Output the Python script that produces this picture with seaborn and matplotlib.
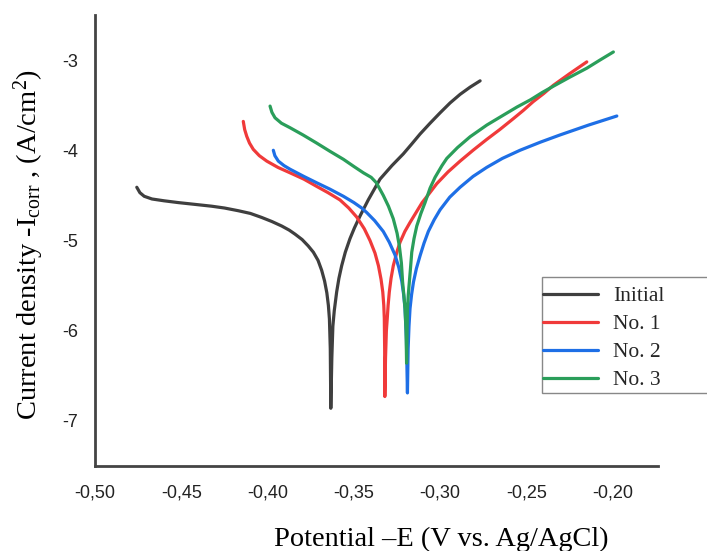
import numpy as np
import pandas as pd
import matplotlib
matplotlib.use("Agg")
import matplotlib.pyplot as plt
from matplotlib.patches import Rectangle
import seaborn as sns

# ---- data ----
initial_E = [-0.4758, -0.4740, -0.4715, -0.4670, -0.4600, -0.4517, -0.4420, -0.4324, -0.4250,
             -0.4170, -0.4100, -0.4034, -0.3975, -0.3918, -0.3875, -0.3841, -0.3800, -0.3765,
             -0.3735, -0.3708, -0.3687, -0.3670, -0.3657, -0.3648, -0.3642, -0.3637, -0.3634,
             -0.3628, -0.3622, -0.3614, -0.3600, -0.3587, -0.3571, -0.3550, -0.3523, -0.3497,
             -0.3465, -0.3417, -0.3349, -0.3280, -0.3214, -0.3165, -0.3117, -0.3059, -0.3001,
             -0.2943, -0.2885, -0.2827, -0.2769]
initial_I = [-4.41, -4.47, -4.51, -4.54, -4.56, -4.58, -4.60, -4.62, -4.64,
             -4.67, -4.70, -4.745, -4.79, -4.84, -4.885, -4.93, -4.99, -5.06,
             -5.13, -5.22, -5.33, -5.45, -5.58, -5.72, -5.87, -6.2, -6.86,
             -6.3, -5.95, -5.78, -5.57, -5.42, -5.28, -5.13, -4.98, -4.86,
             -4.73, -4.55, -4.32, -4.17, -4.04, -3.93, -3.82, -3.70, -3.585,
             -3.475, -3.38, -3.30, -3.23]

no1_E = [-0.4141, -0.4133, -0.4121, -0.4105, -0.4083, -0.4048, -0.4005, -0.3940, -0.3870,
         -0.3790, -0.3716, -0.3650, -0.3581, -0.3530, -0.3484, -0.3440, -0.3407, -0.3378,
         -0.3358, -0.3343, -0.3333, -0.3327, -0.3324, -0.3322, -0.3321,
         -0.3317, -0.3312, -0.3307, -0.3302, -0.3295, -0.3285, -0.3272, -0.3250, -0.3233,
         -0.3205, -0.3175, -0.3140, -0.3105, -0.3060, -0.3020, -0.2955, -0.2885, -0.2810,
         -0.2731, -0.2655, -0.2577, -0.2520, -0.2461, -0.2400, -0.2345, -0.2250, -0.2151]
no1_I = [-3.68, -3.77, -3.845, -3.92, -3.99, -4.06, -4.12, -4.19, -4.25,
         -4.32, -4.40, -4.47, -4.55, -4.64, -4.74, -4.87, -5.00, -5.14,
         -5.28, -5.43, -5.57, -5.72, -5.865, -6.2, -6.73,
         -6.3, -6.0, -5.865, -5.72, -5.57, -5.42, -5.28, -5.12, -5.02,
         -4.90, -4.80, -4.69, -4.58, -4.47, -4.37, -4.24, -4.12, -4.00,
         -3.88, -3.77, -3.65, -3.56, -3.46, -3.37, -3.28, -3.15, -3.02]

no2_E = [-0.3967, -0.3958, -0.3938, -0.3905, -0.3870, -0.3790, -0.3716, -0.3640, -0.3561,
         -0.3500, -0.3455, -0.3426, -0.3380, -0.3330, -0.3295, -0.3262, -0.3240, -0.3223,
         -0.3212, -0.3204, -0.3196, -0.3190,
         -0.3186, -0.3181, -0.3175, -0.3166, -0.3155, -0.3138, -0.3117, -0.3094, -0.3069,
         -0.3035, -0.3001, -0.2945, -0.2885, -0.2810, -0.2731, -0.2640, -0.2538, -0.2420,
         -0.2306, -0.2140, -0.1977]
no2_I = [-4.00, -4.06, -4.12, -4.17, -4.21, -4.29, -4.36, -4.43, -4.51,
         -4.58, -4.64, -4.69, -4.78, -4.90, -5.02, -5.16, -5.30, -5.45,
         -5.60, -5.755, -6.1, -6.69,
         -6.2, -5.95, -5.755, -5.60, -5.46, -5.31, -5.17, -5.03, -4.90,
         -4.77, -4.66, -4.52, -4.41, -4.29, -4.19, -4.09, -4.00, -3.91,
         -3.83, -3.72, -3.62]

no3_E = [-0.3986, -0.3975, -0.3957, -0.3920, -0.3870, -0.3795, -0.3716, -0.3640, -0.3561,
         -0.3500, -0.3445, -0.3400, -0.3370, -0.3330, -0.3300, -0.3272, -0.3250, -0.3237,
         -0.3225, -0.3218, -0.3210, -0.3204, -0.3198, -0.3195,
         -0.3192, -0.3190, -0.3185, -0.3179, -0.3172, -0.3165, -0.3152, -0.3136, -0.3112,
         -0.3088, -0.3059, -0.3030, -0.2990, -0.2962, -0.2900, -0.2827, -0.2730, -0.2634,
         -0.2555, -0.2477, -0.2410, -0.2345, -0.2250, -0.2151, -0.2075, -0.1997]
no3_I = [-3.51, -3.58, -3.64, -3.70, -3.75, -3.83, -3.92, -4.01, -4.10,
         -4.18, -4.25, -4.30, -4.36, -4.50, -4.62, -4.76, -4.92, -5.06,
         -5.25, -5.46, -5.62, -5.755, -6.0, -6.36,
         -6.0, -5.755, -5.60, -5.46, -5.30, -5.13, -4.98, -4.84, -4.70,
         -4.58, -4.42, -4.30, -4.17, -4.09, -3.97, -3.85, -3.72, -3.61,
         -3.52, -3.44, -3.36, -3.29, -3.19, -3.09, -3.00, -2.91]

series_names = ["Initial", "No. 1", "No. 2", "No. 3"]
series_colors = ["#3f3f3f", "#f03a3a", "#1e6fe6", "#2a9e5a"]

x_ticks = [-0.50, -0.45, -0.40, -0.35, -0.30, -0.25, -0.20]
x_tick_labels = ["-0,50", "-0,45", "-0,40", "-0,35", "-0,30", "-0,25", "-0,20"]
y_ticks = [-7, -6, -5, -4, -3]
y_tick_labels = ["-7", "-6", "-5", "-4", "-3"]

# ---- plot ----
sns.set_style("white")
plt.rcParams["font.family"] = ["Liberation Sans", "DejaVu Sans"]
plt.rcParams["mathtext.fontset"] = "custom"
plt.rcParams["mathtext.rm"] = "Liberation Serif"
plt.rcParams["mathtext.it"] = "Liberation Serif:italic"

fig = plt.figure(figsize=(7.07, 5.51), dpi=100)
ax = fig.add_axes([0.1344, 0.1543, 0.7959, 0.8185])

all_E = [initial_E, no1_E, no2_E, no3_E]
all_I = [initial_I, no1_I, no2_I, no3_I]
for name, col, E, I in zip(series_names, series_colors, all_E, all_I):
    df = pd.DataFrame({"E": E, "I": I})
    sns.lineplot(data=df, x="E", y="I", sort=False, estimator=None, ax=ax,
                 color=col, linewidth=2.3, label=name)

ax.set_xlim(-0.50, -0.174)
ax.set_ylim(-7.5, -2.5)
ax.set_xticks(x_ticks)
ax.set_xticklabels(x_tick_labels)
ax.set_yticks(y_ticks)
ax.set_yticklabels(y_tick_labels)
ax.tick_params(axis="both", length=0, labelsize=13, colors="#222222")
ax.tick_params(axis="x", pad=13)
ax.tick_params(axis="y", pad=12)

for s in ["top", "right"]:
    ax.spines[s].set_visible(False)
for s in ["left", "bottom"]:
    ax.spines[s].set_color("#444444")
    ax.spines[s].set_linewidth(2.0)

ax.set_xlabel("Potential \u2013E (V vs. Ag/AgCl)", fontsize=20.4,
              family="Liberation Serif", color="black")
ax.xaxis.set_label_coords(0.616, -0.136)
ax.set_ylabel(r"Current density -I$_{\mathrm{corr}}$ , (A/cm$^{2}$)", fontsize=20.5,
              family="Liberation Serif", color="black", va="center")
ax.yaxis.set_label_coords(-0.1174, 0.49)

# legend frame (extends past the right edge, as in the reference)
frame = Rectangle((541.5 / 707, 1 - 393 / 551), (730 - 541.5) / 707, (393 - 277) / 551,
                  transform=fig.transFigure, facecolor="white", edgecolor="#888888",
                  linewidth=1.0, zorder=5, clip_on=False)
ax.add_patch(frame)

leg = ax.legend(loc="upper left", bbox_to_anchor=(543 / 707, 1 - 286 / 551),
                bbox_transform=fig.transFigure,
                prop={"family": "Liberation Serif", "size": 15.5},
                frameon=False, borderpad=0.0, labelspacing=0.37, handlelength=2.55,
                handletextpad=0.7, borderaxespad=0.0)
leg.set_zorder(10)
for line in leg.get_lines():
    line.set_linewidth(2.3)

fig.savefig("out.png", dpi=100)
